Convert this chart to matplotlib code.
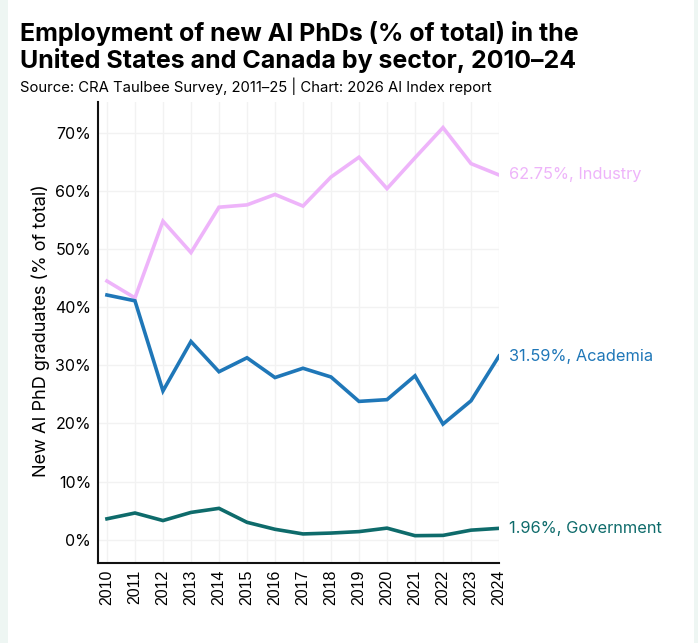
import matplotlib
matplotlib.use("Agg")
import matplotlib.pyplot as plt
from matplotlib.patches import Rectangle
from matplotlib.ticker import FuncFormatter

years = list(range(2010, 2025))
industry = [44.5, 41.6, 54.8, 49.4, 57.2, 57.6, 59.4, 57.4, 62.4, 65.8, 60.4, 65.7, 70.9, 64.7, 62.75]
academia = [42.1, 41.1, 25.6, 34.1, 28.9, 31.3, 27.9, 29.5, 28.0, 23.8, 24.1, 28.2, 19.9, 23.9, 31.59]
government = [3.6, 4.6, 3.3, 4.7, 5.4, 3.0, 1.8, 1.0, 1.15, 1.4, 2.0, 0.7, 0.75, 1.65, 1.96]
series_names = ["Industry", "Academia", "Government"]
colors = ["#EEB4FA", "#1F77B8", "#0E6B6B"]

plt.rcParams['font.family'] = ['Liberation Sans', 'DejaVu Sans']

fig = plt.figure(figsize=(6.98, 6.43), dpi=100)
fig.patch.set_facecolor("#EEF6F3")
bg = Rectangle((8/698, 0), (694-8)/698, 1, transform=fig.transFigure,
               facecolor="white", edgecolor="none", zorder=-10)
fig.add_artist(bg)

ax = fig.add_axes([98/698, 1-563/643, (499-98)/698, (563-102)/643])
ax.set_zorder(1)
ax.set_facecolor("white")

for vals, c, name in zip([industry, academia, government], colors, series_names):
    ax.plot(years, vals, color=c, lw=2.6, solid_joinstyle='miter', zorder=3)
    ax.annotate(f"{vals[-1]:.2f}%, {name}", xy=(years[-1], vals[-1]), xytext=(7, 0),
                textcoords="offset points", color=c, fontsize=11.8, va="center",
                ha="left", family=["Inter", "DejaVu Sans"], annotation_clip=False)

ax.set_xlim(2009.68, 2024)
ax.set_ylim(-4, 75.3)
ax.set_yticks([0, 10, 20, 30, 40, 50, 60, 70])
ax.yaxis.set_major_formatter(FuncFormatter(lambda v, p: f"{v:.0f}%"))
ax.set_xticks(years)
ax.set_xticklabels([str(y) for y in years], rotation=90)
ax.tick_params(axis="both", length=0, labelsize=11.5, pad=5, colors="black")
for lbl in ax.get_yticklabels():
    lbl.set_fontfamily(["Inter", "DejaVu Sans"])
ax.grid(True, color="#F2F2F2", lw=1)
ax.set_axisbelow(True)
for s in ["top", "right"]:
    ax.spines[s].set_visible(False)
for s in ["left", "bottom"]:
    ax.spines[s].set_linewidth(1.5)
    ax.spines[s].set_color("#111111")

ax.set_ylabel("New AI PhD graduates (% of total)", fontsize=13,
              family=["Inter", "DejaVu Sans"])
ax.yaxis.label.set_va("center")
ax.yaxis.set_label_coords(-0.143, 0.503)

fig.text(20/698, 1-21/643, "Employment of new AI PhDs (% of total) in the\nUnited States and Canada by sector, 2010–24",
         fontsize=18, fontweight="bold", va="top", ha="left", linespacing=1.12,
         family=["Inter", "DejaVu Sans"])
fig.text(20/698, 1-86/643, "Source: CRA Taulbee Survey, 2011–25 | Chart: 2026 AI Index report",
         fontsize=10.7, va="center", ha="left", family=["Inter", "DejaVu Sans"])

fig.savefig("out.png", dpi=100, facecolor=fig.get_facecolor())
